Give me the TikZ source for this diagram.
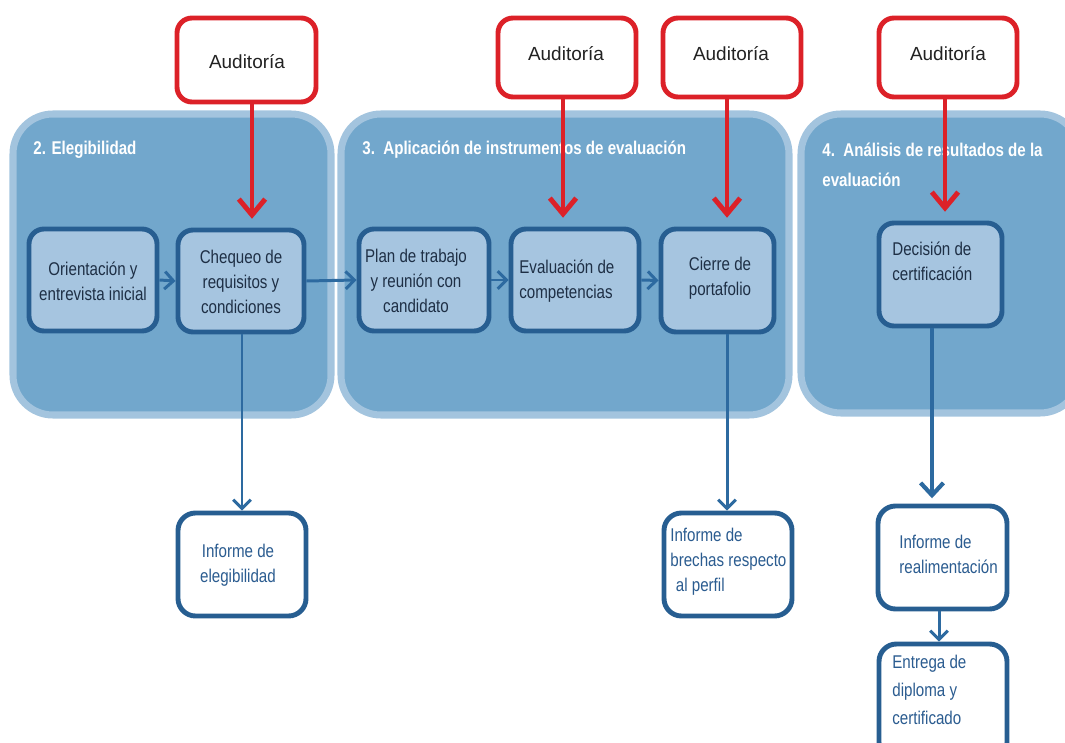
\documentclass[tikz,border=0pt]{standalone}
\usepackage{fontspec}
\setmainfont{Liberation Sans}
\newfontfamily\nar[FakeStretch=0.82]{Liberation Sans}
\usetikzlibrary{arrows.meta}
\definecolor{panelfill}{HTML}{72A7CC}
\definecolor{panelring}{HTML}{A3C4DE}
\definecolor{boxfill}{HTML}{A6C5E0}
\definecolor{boxborder}{HTML}{275E91}
\definecolor{arrowblue}{HTML}{2D6AA0}
\definecolor{audred}{HTML}{DC2128}
\definecolor{intext}{HTML}{1E2F45}
\definecolor{outtext}{HTML}{2B5C90}
\definecolor{audtext}{HTML}{222222}
\newcommand\bx[6]{%
  \pgfmathsetmacro\myBW{(#5-#3)*0.02}%
  \pgfmathsetmacro\myBH{(#6-#4)*0.02}%
  \node[#2, minimum width=\myBW cm, minimum height=\myBH cm] (#1) at ({(#3+#5)/2},{(#4+#6)/2}) {};}
\begin{document}
\begin{tikzpicture}[x=0.02cm,y=-0.02cm,
  panel/.style={draw=panelring, fill=panelfill, line width=4pt, rounded corners=0.8cm, rectangle, inner sep=0pt},
  audit/.style={draw=audred, fill=white, line width=2.8pt, rounded corners=0.3cm, rectangle, inner sep=0pt},
  inbox/.style={draw=boxborder, fill=boxfill, line width=2.8pt, rounded corners=0.3cm, rectangle, inner sep=0pt},
  outbox/.style={draw=boxborder, fill=white, line width=2.8pt, rounded corners=0.35cm, rectangle, inner sep=0pt},
  title/.style={text=white, font=\nar\bfseries\fontsize{10.5}{17}\selectfont, inner sep=0pt},
  audtxt/.style={text=audtext, font=\fontsize{10.8}{13}\selectfont, inner sep=0pt},
  intxt/.style={text=intext, font=\nar\fontsize{10.5}{14.2}\selectfont, inner sep=0pt},
  outtxt/.style={text=outtext, font=\nar\fontsize{10.5}{14.2}\selectfont, inner sep=0pt},
  redarr/.style={draw=audred, line width=2.8pt, -{Straight Barb[length=9pt,width=15pt,line width=2.8pt]}, shorten >=5pt},
  bluearr/.style={draw=arrowblue, line width=1.7pt, -{Straight Barb[length=5pt,width=10pt,line width=1.7pt]}},
  bluearrbig/.style={draw=arrowblue, line width=2.4pt, -{Straight Barb[length=7pt,width=13pt,line width=2.4pt]}}
]
\useasboundingbox (0,0) rectangle (1065,743);
\clip (0,0) rectangle (1065,743);

% panels
\bx{P1}{panel}{13}{114}{331}{415}
\bx{P2}{panel}{341}{114}{789}{415}
\bx{P3}{panel}{801}{114}{1080}{413}

\node[title, anchor=west] (T1) at (33,150) {2. Elegibilidad};
\node[title, anchor=west] (T2) at (362,150) {3.\ \ Aplicación de instrumentos de evaluación};
\node[title, anchor=west, align=left] (T3) at (822,165) {4.\ \ Análisis de resultados de la\\evaluación};

% audit boxes
\bx{aud1}{audit}{177}{18}{316}{102}
\bx{aud2}{audit}{498}{18}{636}{97}
\bx{aud3}{audit}{663}{18}{801}{97}
\bx{aud4}{audit}{879}{18}{1017}{97}
\node[audtxt] (aud1t) at (247,62) {Auditoría};
\node[audtxt] (aud2t) at (566,54) {Auditoría};
\node[audtxt] (aud3t) at (731,54) {Auditoría};
\node[audtxt] (aud4t) at (948,54) {Auditoría};

% inner boxes
\bx{A}{inbox}{29}{229}{157}{331}
\bx{B}{inbox}{178}{230}{304}{332}
\bx{C}{inbox}{359}{229}{489}{331}
\bx{D}{inbox}{511}{229}{639}{331}
\bx{E}{inbox}{661}{229}{774}{332}
\bx{F}{inbox}{879}{223}{1002}{326}

\node[intxt, align=center] (At) at (93,281.5) {Orientación y\\entrevista inicial};
\node[intxt, align=center] (Bt) at (241,281.5) {Chequeo de\\requisitos y\\condiciones};
\node[intxt, align=center] (Ct) at (416,281) {Plan de trabajo\\y reunión con\\candidato};
\node[intxt, align=left, anchor=west] (Dt) at (519,281.5) {Evaluación de\\competencias};
\node[intxt, align=center] (Et) at (720,278.5) {Cierre de\\portafolio};
\node[intxt, align=left, anchor=west] (Ft) at (892,261.5) {Decisión de\\certificación};

% output boxes
\bx{G}{outbox}{178}{513}{306}{616}
\bx{H}{outbox}{664}{513}{792}{616}
\bx{I}{outbox}{878}{506}{1007}{609}
\bx{J}{outbox}{879}{644}{1007}{760}

\node[outtxt, align=center] (Gt) at (238,565) {Informe de\\elegibilidad};
\node[outtxt, align=left, anchor=west] (Ht) at (670,561.5) {Informe de\\brechas respecto\\\hspace{0.3em}al perfil};
\node[outtxt, align=left, anchor=west] (It) at (899,554.5) {Informe de\\realimentación};
\node[outtxt, align=left, anchor=west, font=\nar\fontsize{10.5}{15.9}\selectfont] (Jt) at (892,690) {Entrega de\\diploma y\\certificado};

% red arrows
\coordinate (r1) at (252,0);
\coordinate (r2) at (563,0);
\coordinate (r3) at (727,0);
\coordinate (r4) at (945,0);
\draw[redarr] (aud1.south -| r1) -- (B.north -| r1);
\draw[redarr] (aud2.south -| r2) -- (D.north -| r2);
\draw[redarr] (aud3.south -| r3) -- (E.north -| r3);
\draw[redarr] (aud4.south -| r4) -- (F.north -| r4);

% blue arrows
\draw[bluearr] (A.east) -- (B.west);
\draw[bluearr] (B.east) -- (C.west);
\draw[bluearr] (C.east) -- (D.west);
\draw[bluearr] (D.east) -- (E.west);
\coordinate (b1) at (242,0);
\coordinate (b2) at (727,0);
\coordinate (b3) at (932,0);
\coordinate (b4) at (939,0);
\draw[bluearr] (B.south -| b1) -- (G.north -| b1);
\draw[bluearr] (E.south -| b2) -- (H.north -| b2);
\draw[bluearrbig, shorten >=3pt] (F.south -| b3) -- (I.north -| b3);
\draw[bluearr] (I.south -| b4) -- (J.north -| b4);
\end{tikzpicture}
\end{document}
